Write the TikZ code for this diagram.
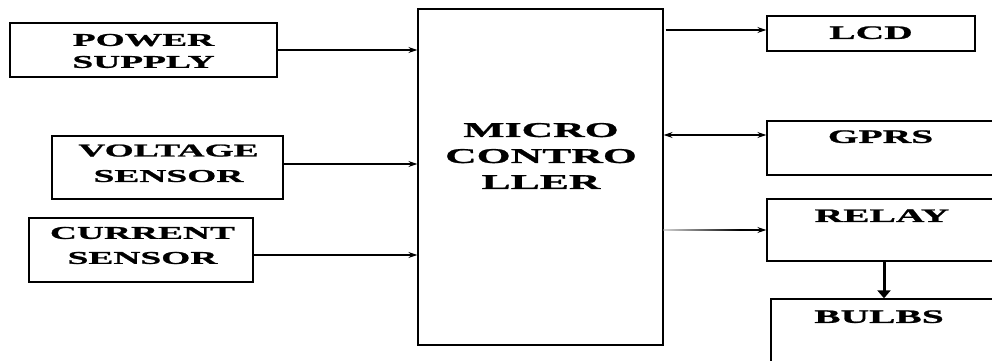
\documentclass[tikz,border=0pt]{standalone}
\usepackage{fontspec}
\usetikzlibrary{arrows.meta}
\newfontfamily\widefont{Liberation Serif}[FakeStretch=2.08,FakeBold=1.2]
\begin{document}
\begin{tikzpicture}[x=1pt,y=-1pt,
  blockbox/.style={draw,line width=1.3pt,rectangle,inner sep=0pt},
  lblL/.style={inner sep=0pt,align=center,font=\widefont\bfseries\fontsize{18}{22}\selectfont},
  lblR/.style={inner sep=0pt,align=center,font=\widefont\bfseries\fontsize{19}{23}\selectfont},
  lblM/.style={inner sep=0pt,align=center,font=\widefont\bfseries\fontsize{21}{26}\selectfont},
  arr/.style={line width=1.4pt,-{Stealth[length=9pt,width=6pt]}},
  darr/.style={line width=1.4pt,{Stealth[length=9pt,width=6pt]}-{Stealth[length=9pt,width=6pt]}},
  thickarr/.style={line width=3pt,-{Stealth[length=8pt,width=13pt,inset=0pt]}}]
\useasboundingbox (0,0) rectangle (992,360);

% blocks
\node[blockbox,minimum width=267pt,minimum height=54pt] (ps) at (143.5,50) {};
\node[blockbox,minimum width=231pt,minimum height=63pt] (vs) at (167.5,167.5) {};
\node[blockbox,minimum width=224pt,minimum height=64pt] (cs) at (141,250) {};
\node[blockbox,minimum width=245pt,minimum height=336pt] (mc) at (540.5,177) {};
\node[blockbox,minimum width=208pt,minimum height=35pt] (lcd) at (871,33.5) {};
\node[blockbox,minimum width=228pt,minimum height=54pt] (gprs) at (881,148) {};
\node[blockbox,minimum width=234pt,minimum height=62pt] (relay) at (884,230) {};
\node[blockbox,minimum width=226pt,minimum height=81pt] (bulbs) at (884,339.5) {};

% labels
\node[lblL] (psl) at (143.5,51) {POWER\\SUPPLY};
\node[lblL,font=\widefont\bfseries\fontsize{18}{25.5}\selectfont] (vsl) at (168.5,163.3) {VOLTAGE\\SENSOR};
\node[lblL,font=\widefont\bfseries\fontsize{18}{25}\selectfont] (csl) at (142.5,245.5) {CURRENT\\SENSOR};
\node[lblM] (mcl) at (541,156) {MICRO\\CONTRO\\LLER};
\node[lblR] (lcdl) at (871,32.7) {LCD};
\node[lblR] (gprsl) at (880.5,136.7) {GPRS};
\node[lblR] (relayl) at (882,215.7) {RELAY};
\node[lblR] (bulbsl) at (879,316.7) {BULBS};

% inputs
\draw[arr] (ps.east) -- (ps.east -| mc.west);
\draw[arr] ([yshift=3.5pt]vs.east) -- ([yshift=3.5pt]vs.east -| mc.west);
\draw[arr] ([yshift=-5pt]cs.east) -- ([yshift=-5pt]cs.east -| mc.west);

% outputs
\draw[arr] ([xshift=2pt]mc.east |- 0,30) -- (lcd.west |- 0,30);
\draw[darr] (mc.east |- 0,135) -- (gprs.west |- 0,135);
\draw[arr] (mc.east |- relay.west) -- (relay.west);
\shade[left color=gray!35,right color=black,shading angle=90] (mc.east |- 0,229.3) rectangle (740,230.7);
\draw[thickarr] (relay.south) -- (relay.south |- bulbs.north);
\end{tikzpicture}
\end{document}
